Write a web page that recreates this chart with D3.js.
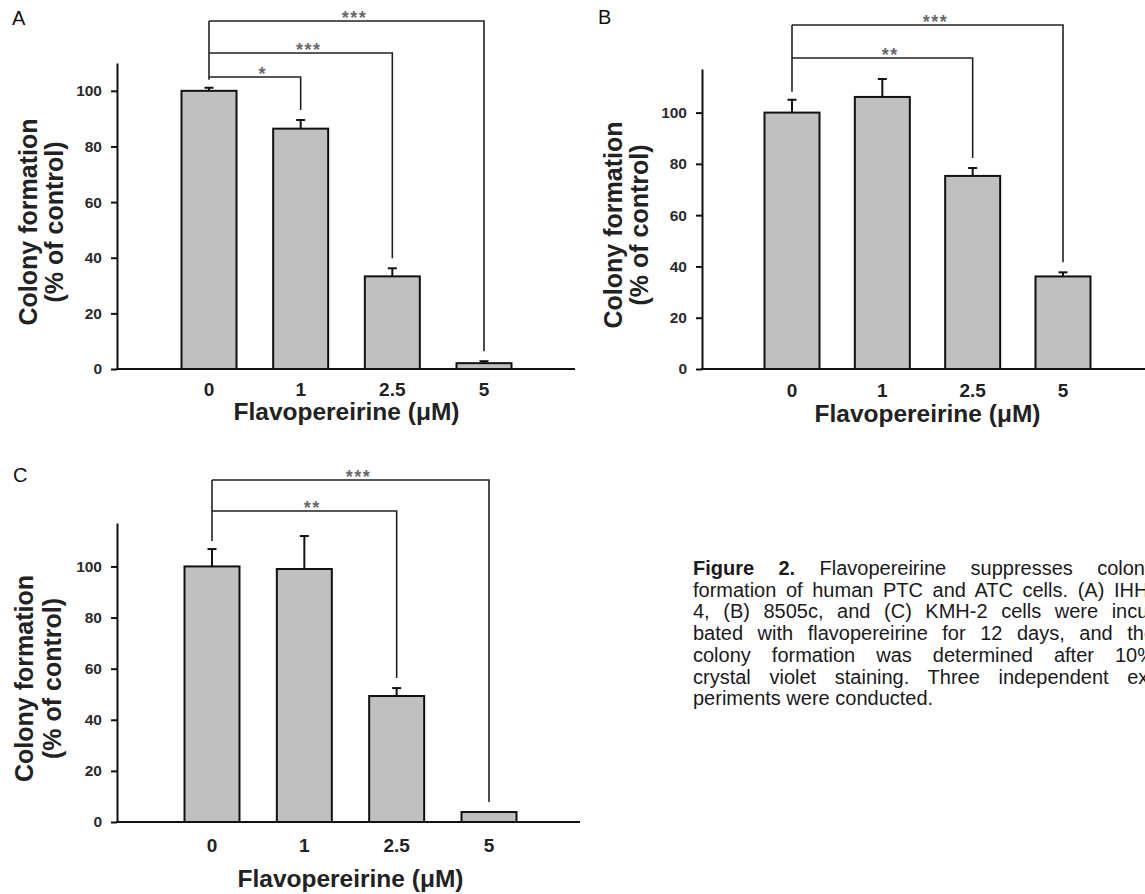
<!DOCTYPE html>
<html lang="en">
<head>
    <meta charset="UTF-8">
    <title>Figure 2 - Colony formation</title>
    <script src="https://cdn.jsdelivr.net/npm/d3@7"></script>
    <style>
        body {
            margin: 0;
            width: 1145px;
            height: 894px;
            overflow: hidden;
            background: white;
            position: relative;
        }

        svg {
            position: absolute;
            left: 0;
            top: 0;
            font-family: "Liberation Sans", Arial, sans-serif;
        }

        .caption {
            position: absolute;
            left: 693px;
            top: 558px;
            font-family: "Liberation Sans", Arial, sans-serif;
            font-size: 20px;
            line-height: 21.7px;
            color: #1a1a1a;
        }

        .caption div {
            width: 462px;
            white-space: nowrap;
            text-align: justify;
            text-align-last: justify;
        }

        .caption div.last {
            text-align-last: left;
        }
    </style>
</head>
<body>
<svg id="chart" width="1145" height="894"></svg>
<div class="caption" id="caption"></div>
<script>
    const doses = ['0', '1', '2.5', '5'];
    const yTicks = [0, 20, 40, 60, 80, 100];

    // panel A - IHH-4
    const meanA = [100, 86.4, 33.3, 2.1];
    const errA = [1.1, 3.1, 2.9, 0.7];
    const sigA = [[1, '*'], [2, '***'], [3, '***']];

    // panel B - 8505c
    const meanB = [100, 106.1, 75.3, 36.1];
    const errB = [5.0, 7.0, 3.1, 1.6];
    const sigB = [[2, '**'], [3, '***']];

    // panel C - KMH-2
    const meanC = [100, 99.0, 49.3, 3.9];
    const errC = [6.8, 12.9, 3.1, 0];
    const sigC = [[2, '**'], [3, '***']];

    const captionLines = [
        ['Figure 2.', ' Flavopereirine suppresses colony'],
        ['', 'formation of human PTC and ATC cells. (A) IHH-'],
        ['', '4, (B) 8505c, and (C) KMH-2 cells were incu-'],
        ['', 'bated with flavopereirine for 12 days, and the'],
        ['', 'colony formation was determined after 10%'],
        ['', 'crystal violet staining. Three independent ex-'],
        ['', 'periments were conducted.']
    ];

    const svg = d3.select('#chart');

    function drawPanel(p) {
        const g = svg.append('g');
        const x = d3.scalePoint().domain(doses).range([p.xFirst, p.xLast]);
        const y = d3.scaleLinear().domain([0, p.yMax]).range([p.yBase, p.yTop]);
        const barW = 55;
        const rows = p.mean.map((m, i) => ({dose: doses[i], mean: m, err: p.err[i]}));

        // panel letter
        g.append('text')
            .attr('x', p.letterX).attr('y', p.letterY)
            .attr('font-size', 20).attr('fill', '#111')
            .text(p.letter);

        // bars
        g.selectAll('rect.bar').data(rows).enter().append('rect')
            .attr('class', 'bar')
            .attr('x', d => x(d.dose) - barW / 2)
            .attr('y', d => y(d.mean))
            .attr('width', barW)
            .attr('height', d => y(0) - y(d.mean))
            .attr('fill', '#c0c0c0')
            .attr('stroke', '#111')
            .attr('stroke-width', 2);

        // error bars (upper only)
        const eb = g.selectAll('g.err').data(rows.filter(d => d.err > 0)).enter().append('g')
            .attr('class', 'err');
        eb.append('line')
            .attr('x1', d => x(d.dose)).attr('x2', d => x(d.dose))
            .attr('y1', d => y(d.mean)).attr('y2', d => y(d.mean + d.err))
            .attr('stroke', '#111').attr('stroke-width', 2);
        eb.append('line')
            .attr('x1', d => x(d.dose) - 4.5).attr('x2', d => x(d.dose) + 4.5)
            .attr('y1', d => y(d.mean + d.err)).attr('y2', d => y(d.mean + d.err))
            .attr('stroke', '#111').attr('stroke-width', 2);

        // y axis
        const yAxis = d3.axisLeft(y).tickValues(yTicks).tickSize(6).tickSizeOuter(0).tickPadding(9);
        const ya = g.append('g').attr('transform', `translate(${p.axisX},0)`).call(yAxis);
        ya.select('.domain').attr('stroke', '#111').attr('stroke-width', 2);
        ya.selectAll('.tick line').attr('stroke', '#111').attr('stroke-width', 2);
        ya.selectAll('.tick text')
            .attr('font-family', '"Liberation Sans", Arial, sans-serif')
            .attr('font-size', 15.5).attr('font-weight', 'bold').attr('fill', '#2b2b2b');

        // x baseline
        g.append('line')
            .attr('x1', p.axisX - 1).attr('x2', p.xEnd)
            .attr('y1', y(0)).attr('y2', y(0))
            .attr('stroke', '#111').attr('stroke-width', 2);

        // x tick labels
        g.selectAll('text.xlab').data(doses).enter().append('text')
            .attr('class', 'xlab')
            .attr('x', d => x(d)).attr('y', y(0) + p.xLabOff)
            .attr('text-anchor', 'middle')
            .attr('font-size', 19).attr('font-weight', 'bold').attr('fill', '#222')
            .text(d => d);

        // axis titles
        g.append('text')
            .attr('x', (p.xFirst + p.xLast) / 2).attr('y', y(0) + p.xTitleOff)
            .attr('text-anchor', 'middle')
            .attr('font-size', 24.5).attr('font-weight', 'bold').attr('fill', '#222')
            .text('Flavopereirine (μM)');

        const midY = (p.yBase + p.yTop) / 2 + 6;
        ['Colony formation', '(% of control)'].forEach((t, i) => {
            g.append('text')
                .attr('transform', `translate(${p.axisX - p.yTitleOff[i]},${midY}) rotate(-90)`)
                .attr('text-anchor', 'middle')
                .attr('font-size', 25).attr('font-weight', 'bold').attr('fill', '#222')
                .text(t);
        });

        // significance brackets against control (index 0)
        const x0 = x(doses[0]);
        g.append('line')
            .attr('x1', x0).attr('x2', x0)
            .attr('y1', d3.min(p.bracketY))
            .attr('y2', y(rows[0].mean + rows[0].err) - 8)
            .attr('stroke', '#222').attr('stroke-width', 1.6);
        p.sig.forEach(([idx, label], k) => {
            const by = p.bracketY[k];
            const r = rows[idx];
            const xi = x(r.dose);
            g.append('path')
                .attr('d', `M${x0},${by}H${xi}V${y(r.mean + r.err) - 10}`)
                .attr('fill', 'none')
                .attr('stroke', '#222').attr('stroke-width', 1.6);
            g.append('text')
                .attr('x', (x0 + xi) / 2 + 8).attr('y', by + 3)
                .attr('text-anchor', 'middle')
                .attr('font-size', 18).attr('font-weight', 'bold')
                .attr('letter-spacing', 1.5)
                .attr('fill', '#6a6a6a')
                .text(label);
        });
    }

    drawPanel({
        letter: 'A', letterX: 12, letterY: 25,
        mean: meanA, err: errA, sig: sigA,
        axisX: 117, yTop: 63, yBase: 369, yMax: 110,
        xFirst: 209, xLast: 484, xEnd: 575,
        bracketY: [77, 53, 21],
        xLabOff: 27, xTitleOff: 51, yTitleOff: [80, 54]
    });

    drawPanel({
        letter: 'B', letterX: 598, letterY: 24,
        mean: meanB, err: errB, sig: sigB,
        axisX: 702, yTop: 69, yBase: 369, yMax: 117,
        xFirst: 792, xLast: 1063, xEnd: 1145,
        bracketY: [58, 25],
        xLabOff: 28, xTitleOff: 53, yTitleOff: [80, 54]
    });

    drawPanel({
        letter: 'C', letterX: 13, letterY: 482,
        mean: meanC, err: errC, sig: sigC,
        axisX: 117, yTop: 523, yBase: 822, yMax: 117,
        xFirst: 212, xLast: 489, xEnd: 580,
        bracketY: [511, 480],
        xLabOff: 30, xTitleOff: 65, yTitleOff: [84, 56]
    });

    // caption, justified line by line as in the print layout
    const cap = d3.select('#caption');
    captionLines.forEach((ln, i) => {
        const div = cap.append('div').classed('last', i === captionLines.length - 1);
        if (ln[0]) div.append('b').text(ln[0]);
        div.append('span').text(ln[1]);
    });
</script>
</body>
</html>
